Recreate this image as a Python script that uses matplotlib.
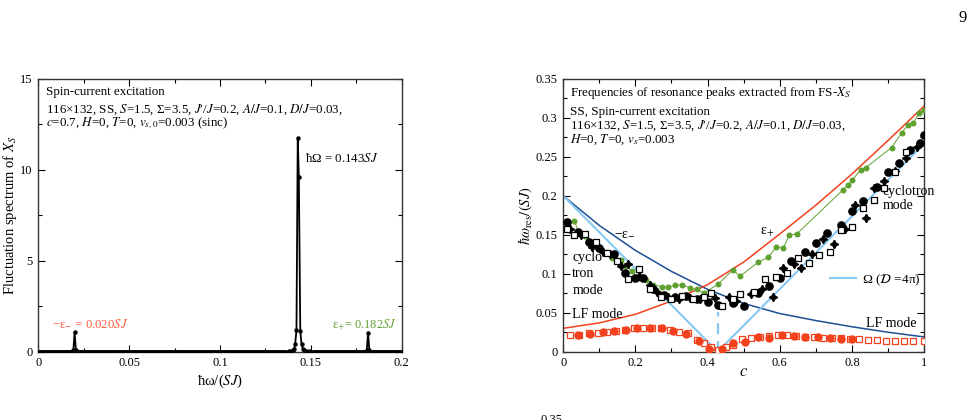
import numpy as np
import matplotlib
matplotlib.use("Agg")
import matplotlib.pyplot as plt
from matplotlib.ticker import MultipleLocator

plt.rcParams['font.family'] = ['Liberation Serif', 'DejaVu Serif']
plt.rcParams['mathtext.fontset'] = 'stix'

# ---- left panel: fluctuation spectrum (c = 0.7) ----
spec_step = 0.0005
peak1_x = [0.0193, 0.0200, 0.0207]
peak1_y = [0.08, 1.07, 0.08]
peak2_x = [0.1365, 0.1380, 0.1392, 0.1402, 0.1409, 0.1414, 0.1421, 0.1428,
           0.1434, 0.1442, 0.1449, 0.1456, 0.1464, 0.1475, 0.1490, 0.1505]
peak2_y = [0.01, 0.02, 0.04, 0.08, 0.17, 0.45, 1.19, 11.77,
           9.59, 1.12, 0.41, 0.17, 0.08, 0.04, 0.02, 0.01]
peak3_x = [0.1808, 0.1815, 0.1822]
peak3_y = [0.08, 1.05, 0.08]

# ---- right panel: resonance frequencies vs c ----
curve_c = [0.0, 0.1, 0.2, 0.3, 0.4, 0.5, 0.6, 0.7, 0.8, 0.9, 1.0]
eps_minus = [0.200, 0.162, 0.130, 0.103, 0.080, 0.062, 0.049, 0.040, 0.032, 0.025, 0.019]
eps_plus = [0.030, 0.037, 0.048, 0.065, 0.086, 0.115, 0.151, 0.188, 0.228, 0.271, 0.315]
omega_c = [0.0, 0.428, 1.0]
omega_v = [0.200, 0.0, 0.267]
c_star = 0.428
c_star_top = 0.051

green_c = [0.03, 0.045, 0.06, 0.09, 0.105, 0.12, 0.135, 0.16, 0.175, 0.19, 0.21,
           0.23, 0.25, 0.275, 0.29, 0.31, 0.33, 0.35, 0.37, 0.39, 0.43, 0.47,
           0.49, 0.541, 0.568, 0.59, 0.61, 0.627, 0.647, 0.776, 0.789, 0.80,
           0.824, 0.838, 0.91, 0.938, 0.956, 0.970, 0.986, 1.0]
green_v = [0.168, 0.152, 0.148, 0.140, 0.130, 0.128, 0.120, 0.118, 0.110, 0.103, 0.095,
           0.092, 0.086, 0.083, 0.083, 0.085, 0.086, 0.082, 0.080, 0.075, 0.087, 0.105,
           0.097, 0.115, 0.121, 0.134, 0.133, 0.150, 0.151, 0.208, 0.214, 0.220,
           0.233, 0.236, 0.262, 0.281, 0.291, 0.293, 0.306, 0.310]

circ_c = [0.01, 0.04, 0.07, 0.10, 0.14, 0.17, 0.20, 0.22, 0.25, 0.28, 0.31, 0.34,
          0.37, 0.40, 0.43, 0.47, 0.50, 0.54, 0.57, 0.60, 0.63, 0.67, 0.70, 0.73,
          0.77, 0.80, 0.83, 0.87, 0.90, 0.93, 0.96, 0.99, 1.00]
circ_v = [0.167, 0.153, 0.141, 0.133, 0.125, 0.101, 0.095, 0.094, 0.081, 0.073, 0.070, 0.071,
          0.067, 0.064, 0.060, 0.063, 0.059, 0.075, 0.084, 0.094, 0.116, 0.128, 0.139, 0.152,
          0.162, 0.180, 0.193, 0.212, 0.231, 0.242, 0.259, 0.268, 0.278]

dia_c = [0.02, 0.05, 0.08, 0.11, 0.13, 0.16, 0.18, 0.21, 0.24, 0.26, 0.29, 0.32,
         0.35, 0.38, 0.42, 0.46, 0.48, 0.52, 0.55, 0.58, 0.61, 0.64, 0.66, 0.69,
         0.72, 0.75, 0.78, 0.81, 0.84, 0.86, 0.89, 0.92, 0.95, 0.98]
dia_v = [0.158, 0.150, 0.135, 0.128, 0.126, 0.110, 0.113, 0.097, 0.085, 0.077, 0.070, 0.067,
         0.069, 0.068, 0.069, 0.070, 0.065, 0.074, 0.081, 0.070, 0.108, 0.112, 0.107, 0.125,
         0.145, 0.138, 0.158, 0.188, 0.172, 0.210, 0.219, 0.232, 0.248, 0.263]

sq_c = [0.01, 0.03, 0.06, 0.09, 0.12, 0.15, 0.18, 0.21, 0.24, 0.27, 0.30, 0.33,
        0.36, 0.39, 0.41, 0.44, 0.47, 0.49, 0.53, 0.56, 0.59, 0.62, 0.65, 0.68,
        0.71, 0.74, 0.77, 0.80, 0.83, 0.86, 0.89, 0.92, 0.95]
sq_v = [0.158, 0.150, 0.151, 0.141, 0.127, 0.116, 0.093, 0.106, 0.081, 0.070, 0.068, 0.072,
        0.068, 0.070, 0.075, 0.059, 0.068, 0.074, 0.076, 0.093, 0.096, 0.101, 0.120, 0.114,
        0.124, 0.128, 0.156, 0.160, 0.185, 0.195, 0.210, 0.230, 0.256]

lf_sq_c = [0.02, 0.045, 0.07, 0.095, 0.12, 0.145, 0.17, 0.195, 0.22, 0.245, 0.27, 0.295,
           0.32, 0.345, 0.37, 0.39, 0.41, 0.43, 0.45, 0.47, 0.495, 0.52, 0.545, 0.57,
           0.595, 0.62, 0.645, 0.67, 0.695, 0.72, 0.745, 0.77, 0.795, 0.82, 0.845,
           0.87, 0.895, 0.92, 0.945, 0.97, 1.0]
lf_sq_v = [0.022, 0.022, 0.024, 0.024, 0.025, 0.026, 0.028, 0.030, 0.030, 0.030, 0.030, 0.028,
           0.025, 0.024, 0.015, 0.011, 0.006, 0.002, 0.006, 0.009, 0.016, 0.017, 0.019, 0.020,
           0.021, 0.021, 0.020, 0.019, 0.019, 0.018, 0.018, 0.017, 0.016, 0.016, 0.015,
           0.015, 0.014, 0.014, 0.014, 0.014, 0.014]
lf_circ_c = [0.04, 0.075, 0.11, 0.14, 0.175, 0.205, 0.24, 0.275, 0.305, 0.34, 0.375, 0.405,
             0.44, 0.47, 0.505, 0.54, 0.57, 0.605, 0.64, 0.67, 0.705, 0.74, 0.77, 0.80]
lf_circ_v = [0.021, 0.023, 0.025, 0.026, 0.028, 0.030, 0.030, 0.030, 0.027, 0.023, 0.014, 0.004,
             0.003, 0.011, 0.013, 0.019, 0.018, 0.021, 0.020, 0.019, 0.019, 0.018, 0.016, 0.016]

RED = '#f2411c'
GREEN = '#5fa12e'
NAVY = '#1c4f94'
LBLUE = '#86c8f2'
FS = 9.4


def style_axes(ax):
    ax.tick_params(which='both', direction='in', top=True, right=True, labelsize=9)
    ax.tick_params(which='major', length=5, width=0.8, pad=4)
    ax.tick_params(which='minor', length=3, width=0.8)
    for s in ax.spines.values():
        s.set_linewidth(1.0)
        s.set_color('#333333')


fig = plt.figure(figsize=(9.74, 4.2), dpi=100)

# left panel
ax1 = fig.add_axes([0.0393, 0.1626, 0.3731, 0.6494])
freq = np.arange(0, 0.2 + spec_step / 2, spec_step)
base = freq[((freq < 0.0185) | (freq > 0.0215)) & ((freq < 0.136) | (freq > 0.151))
            & ((freq < 0.1800) | (freq > 0.1830))]
xs = np.concatenate([base, peak1_x, peak2_x, peak3_x])
ys = np.concatenate([np.zeros(len(base)), peak1_y, peak2_y, peak3_y])
order = np.argsort(xs)
ax1.plot(xs[order], ys[order], color='black', lw=1.3, marker='o', ms=2.2, zorder=3)
ax1.set_xlim(0, 0.2)
ax1.set_ylim(0, 15)
ax1.xaxis.set_minor_locator(MultipleLocator(0.025))
ax1.yaxis.set_minor_locator(MultipleLocator(2.5))
style_axes(ax1)
ax1.set_xticks([0, 0.05, 0.1, 0.15, 0.2])
ax1.set_xticklabels(['0', '0.05', '0.1', '0.15', '0.2'])
ax1.set_yticks([0, 5, 10, 15])
ax1.set_yticklabels(['0', '5', '10', '15'])
ax1.set_xlabel(r'ħω/($SJ$)', fontsize=10.5)
ax1.set_ylabel(r'Fluctuation spectrum of $X_S$', fontsize=10.5)
ax1.xaxis.set_label_coords(0.5, -0.075)
ax1.yaxis.set_label_coords(-0.052, 0.5)
ax1.text(0.02, 0.951, 'Spin-current excitation', transform=ax1.transAxes, fontsize=FS, va='center')
ax1.text(0.02, 0.889, r"116×132, SS, $S$=1.5, Σ=3.5, $J$′/$J$=0.2, $A/J$=0.1, $D/J$=0.03,",
         transform=ax1.transAxes, fontsize=FS, va='center')
ax1.text(0.02, 0.8375, r"$c$=0.7, $H$=0, $T$=0, $v_{s,0}$=0.003 (sinc)",
         transform=ax1.transAxes, fontsize=FS, va='center')
ax1.text(0.1468, 10.6, r'ħΩ = 0.143$SJ$', fontsize=9.3, va='center')
ax1.text(0.0075, 1.5, r'−ε$_{-}$ = 0.020$SJ$', fontsize=9.2, color='#ff5a3c', va='center')
ax1.text(0.1975, 1.5, r'ε$_{+}$= 0.182$SJ$', fontsize=9.0, color=GREEN, va='center', ha='right')

# right panel
ax2 = fig.add_axes([0.5783, 0.1626, 0.3704, 0.6494])
ax2.plot(curve_c, eps_minus, color=NAVY, lw=1.1, zorder=2)
ax2.plot(curve_c, eps_plus, color=RED, lw=1.1, zorder=2)
ax2.plot(omega_c, omega_v, color=LBLUE, lw=1.5, zorder=2, label=r'Ω ($\mathcal{D}$ =4π)')
ax2.plot([c_star, c_star], [0, c_star_top], color=LBLUE, lw=1.6, ls=(0, (5, 3)), zorder=2)
ax2.plot(green_c, green_v, color=GREEN, lw=0.7, marker='o', ms=3.3, zorder=3)
ax2.plot(circ_c, circ_v, ls='none', marker='o', ms=5.2, color='black', zorder=4)
ax2.plot(dia_c, dia_v, ls='none', marker=(4, 1, 0), ms=6, color='black', zorder=4)
ax2.plot(sq_c, sq_v, ls='none', marker='s', ms=5, mfc='white', mec='black', mew=0.9, zorder=4)
ax2.plot(lf_sq_c, lf_sq_v, ls='none', marker='s', ms=4.6, mfc='white', mec=RED, mew=0.9, zorder=4)
ax2.plot(lf_circ_c, lf_circ_v, ls='none', marker='o', ms=5, color=RED, zorder=5)
ax2.set_xlim(0, 1)
ax2.set_ylim(0, 0.35)
ax2.xaxis.set_minor_locator(MultipleLocator(0.1))
ax2.yaxis.set_minor_locator(MultipleLocator(0.025))
style_axes(ax2)
ax2.set_xticks([0, 0.2, 0.4, 0.6, 0.8, 1.0])
ax2.set_xticklabels(['0', '0.2', '0.4', '0.6', '0.8', '1'])
ax2.set_yticks([0, 0.05, 0.1, 0.15, 0.2, 0.25, 0.3, 0.35])
ax2.set_yticklabels(['0', '0.05', '0.1', '0.15', '0.2', '0.25', '0.3', '0.35'])
ax2.set_xlabel(r'$c$', fontsize=12)
ax2.set_ylabel(r'$\hbar\omega_{\rm res}/(SJ)$', fontsize=10.5)
ax2.xaxis.set_label_coords(0.5, -0.045)
ax2.yaxis.set_label_coords(-0.078, 0.5)
ax2.text(0.02, 0.949, r'Frequencies of resonance peaks extracted from FS-$X_S$',
         transform=ax2.transAxes, fontsize=FS, va='center')
ax2.text(0.02, 0.880, 'SS, Spin-current excitation', transform=ax2.transAxes, fontsize=FS, va='center')
ax2.text(0.02, 0.828, r"116×132, $S$=1.5, Σ=3.5, $J$′/$J$=0.2, $A/J$=0.1, $D/J$=0.03,",
         transform=ax2.transAxes, fontsize=FS, va='center')
ax2.text(0.02, 0.776, r"$H$=0, $T$=0, $v_s$=0.003", transform=ax2.transAxes, fontsize=FS, va='center')
ax2.text(0.14, 0.152, r'−ε$_{-}$', fontsize=10, va='center')
ax2.text(0.545, 0.153, r'ε$_{+}$', fontsize=10, va='center')
ax2.text(0.025, 0.100, 'cyclo\ntron\nmode', fontsize=10, va='center', linespacing=1.35)
ax2.text(0.025, 0.048, 'LF mode', fontsize=10, va='center')
ax2.text(0.84, 0.036, 'LF mode', fontsize=10, va='center')
ax2.text(0.885, 0.197, 'cyclotron\nmode', fontsize=10, va='center', linespacing=1.1)
ax2.legend(loc='center left', bbox_to_anchor=(0.739, 0.263), frameon=False, fontsize=9.6,
           handlelength=1.95, handletextpad=0.45, borderpad=0, borderaxespad=0)

fig.text(0.993, 0.975, '9', fontsize=12, ha='right', va='top')
fig.text(0.578, 0.0, '0.35', fontsize=9, ha='right', va='center')

fig.savefig('out.png', dpi=100)
